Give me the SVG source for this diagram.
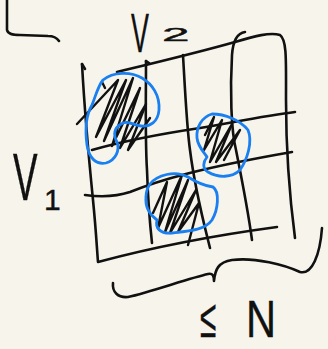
<svg xmlns="http://www.w3.org/2000/svg" width="328" height="349" viewBox="0 0 328 349">
<style>
.ink{fill:none;stroke:#111;stroke-width:2.6;stroke-linecap:round;stroke-linejoin:round}
.blue{fill:none;stroke:#1a7ff0;stroke-width:2.8;stroke-linecap:round;stroke-linejoin:round}
.hatch{fill:none;stroke:#111;stroke-width:2.4;stroke-linecap:round;stroke-linejoin:round}
.lbl{font-family:"Liberation Sans",Arial,sans-serif;fill:#111;stroke:#111;stroke-width:0.4}
</style>
<rect width="328" height="349" fill="#f7f5eb"/>
<g id="corner-mark">
<path class="ink" d="M7,0 L7,30 C8,34 12,35 20,35 L48,36 C54,36 57,38 59,41"/>
</g>
<g id="grid">
<path class="ink" d="M82,64 C84,100 88,150 93,200 C96,230 97,250 98,262 Q180,240 277,227"/>
<path class="ink" d="M82,64 L85,69"/>
<path class="ink" d="M146,61 C146,100 145,140 147,170 C148,200 150,225 152,243"/>
<path class="ink" d="M146,61 L149,63"/>
<path class="ink" d="M183,55 C185,90 187,130 190,150 C195,190 203,220 210,248"/>
<path class="ink" d="M245,32 C238,33 233,40 232,55 C230,90 231,130 236,150 C242,180 248,210 252,240"/>
<path class="ink" d="M117,72 C150,64 200,52 235,42 C255,36 270,32 280,35 C287,40 286,60 286,100 C286,150 290,200 295,238"/>
<path class="ink" d="M92,150 C120,142 160,134 200,128 C240,121 270,115 295,112"/>
<path class="ink" d="M85,195 C100,197 115,197 130,192 C160,180 200,168 292,152"/>
</g>
<g id="cell-1">
<path class="hatch" d="M77,124 L118,80 L96,137 L126,80 L104,141 L133,78 L112,146 L140,88 L120,148 L146,104 L128,150 L150,118"/>
<path class="hatch" d="M102,82 L105,88"/>
<path class="blue" d="M103,80 C113,72 130,71 142,78 C152,84 160,95 159,110 C158,122 150,127 141,126 C133,125 128,120 121,124 C114,128 113,135 117,142 C120,150 116,160 106,163 C96,165 89,158 87,145 C85,130 86,115 92,105 C96,95 98,86 103,80 Z"/>
</g>
<g id="cell-2">
<path class="hatch" d="M205,135 L214,117 L204,150 L222,120 L210,162 L232,124 L216,162 L240,130 L224,160"/>
<path class="blue" d="M212,114 C225,114 240,120 248,130 C253,142 247,160 240,170 C232,178 218,178 208,172 C202,168 203,162 207,157 C204,152 198,147 197,138 C196,127 202,117 212,114 Z"/>
</g>
<g id="cell-3">
<path class="hatch" d="M153,213 L167,182 L158,228 L182,175 L165,232 L188,180 L170,233 L196,190 L178,232 L199,203 L188,245"/>
<path class="blue" d="M150,184 C157,175 175,170 188,177 C196,182 205,186 213,187 C220,192 218,210 212,220 C205,230 190,231 172,233 C160,234 155,228 157,220 C150,215 145,207 146,197 C146,190 148,187 150,184 Z"/>
</g>
<g id="brace">
<path class="ink" d="M113,283 C112,292 118,298 128,297 C150,292 190,278 208,274 C213,273 214,276 214,281 C215,270 218,262 232,260 C255,257 285,265 300,272 C312,275 320,255 322,228"/>
</g>
<g id="label-v2">
<text class="lbl" transform="translate(131,52) scale(0.48,1)" font-size="56">V</text>
<text class="lbl" transform="translate(162,41) scale(2.6,1)" font-size="19" stroke-width="0.7">2</text>
</g>
<g id="label-v1">
<text class="lbl" transform="translate(13,200) scale(0.55,1)" font-size="67">V</text>
<text class="lbl" x="44" y="210" font-size="30">1</text>
</g>
<g id="label-n">
<text class="lbl" transform="translate(200,337) scale(0.55,1)" font-size="54">≤</text>
<text class="lbl" transform="translate(246,337) scale(0.8,1)" font-size="52">N</text>
</g>
</svg>
